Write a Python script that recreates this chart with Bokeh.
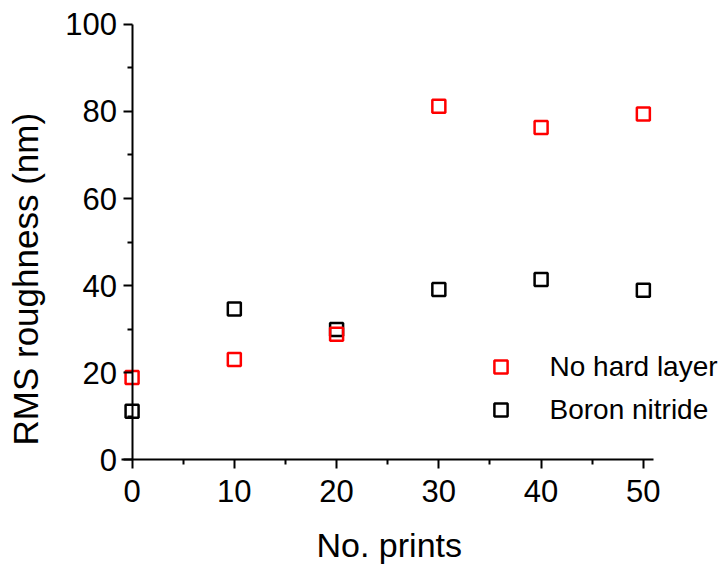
from bokeh.plotting import figure
from bokeh.models import LinearAxis, FixedTicker, Range1d, Legend, LegendItem, Title
from bokeh.embed import file_html
from bokeh.resources import INLINE

prints = [0, 10, 20, 30, 40, 50]
no_hard_layer = [18.9, 23.0, 28.8, 81.2, 76.3, 79.4]
boron_nitride = [11.1, 34.6, 29.9, 39.1, 41.4, 38.9]
x_ticks = [0, 10, 20, 30, 40, 50]
x_minor = [5, 15, 25, 35, 45]
y_ticks = [0, 20, 40, 60, 80, 100]
y_minor = [10, 30, 50, 70, 90]

FONT = "Liberation Sans"
# frame is larger than the drawn axes; the axes are pinned at x = 0 and y = 0
X0, X1 = -8.076, 57.74
Y0, Y1 = -14.21, 104.58

p = figure(width=722, height=565, output_backend="svg", toolbar_location=None,
           x_range=Range1d(X0, X1), y_range=Range1d(Y0, Y1),
           x_axis_location=None, y_axis_location=None,
           min_border_left=48, min_border_right=0, min_border_top=4, min_border_bottom=42)
p.outline_line_color = None
p.grid.visible = False
p.background_fill_color = None
p.border_fill_color = "white"


def style(ax):
    ax.axis_line_width = 2
    ax.major_tick_line_width = 2
    ax.minor_tick_line_width = 2
    ax.major_tick_out = 9
    ax.major_tick_in = 0
    ax.minor_tick_out = 5
    ax.minor_tick_in = 0
    ax.major_label_text_font = FONT
    ax.major_label_text_font_size = "31px"
    ax.major_label_text_color = "black"


xax = LinearAxis(ticker=FixedTicker(ticks=x_ticks, minor_ticks=x_minor),
                 bounds=(-1.045, 51), fixed_location=0)
style(xax)
xax.major_label_standoff = 11
p.add_layout(xax, "below")

yax = LinearAxis(ticker=FixedTicker(ticks=y_ticks, minor_ticks=y_minor),
                 bounds=(0, 100), fixed_location=0)
style(yax)
yax.major_label_standoff = 6
p.add_layout(yax, "left")

xt = Title(text="No. prints", align="left", offset=267, text_font=FONT,
           text_font_size="34px", text_font_style="normal", text_color="black", standoff=4)
p.add_layout(xt, "below")

yt = Title(text="RMS roughness (nm)", align="left", offset=76, vertical_align="middle",
           text_font=FONT, text_font_size="35px", text_font_style="normal",
           text_color="black", standoff=8)
p.add_layout(yt, "left")

r_bn = p.scatter(prints, boron_nitride, marker="square", size=13, fill_color=None,
                 line_color="black", line_width=2.5)
r_nh = p.scatter(prints, no_hard_layer, marker="square", size=13, fill_color=None,
                 line_color="red", line_width=2.5)

legend = Legend(items=[LegendItem(label="No hard layer", renderers=[r_nh]),
                       LegendItem(label="Boron nitride", renderers=[r_bn])],
                location=(434.5, 94.6), orientation="vertical",
                border_line_color=None, background_fill_alpha=0,
                padding=0, margin=0, spacing=10,
                glyph_width=33, glyph_height=33, label_standoff=33,
                label_text_font=FONT, label_text_font_size="28px", label_text_color="black")
p.add_layout(legend, "center")

open("out.html", "w").write(file_html(p, INLINE))
